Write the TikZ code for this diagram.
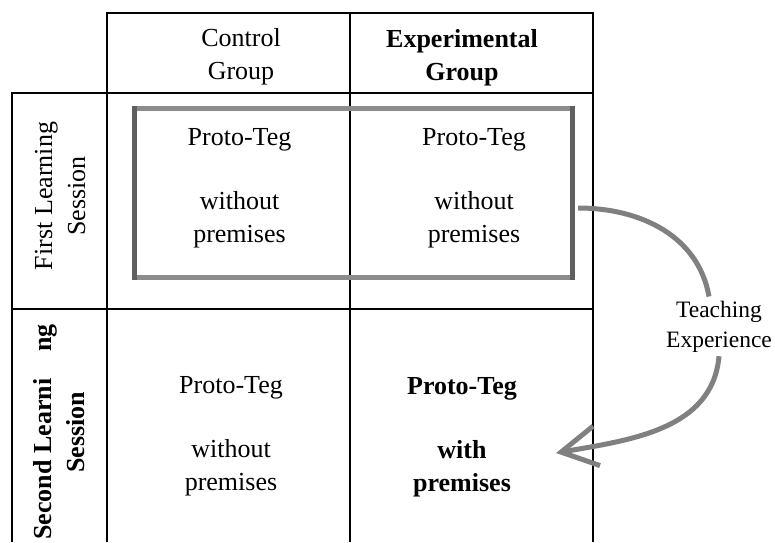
\documentclass[tikz,border=0pt]{standalone}
\usepackage{fontspec}
\setmainfont{Liberation Serif}
\usetikzlibrary{arrows.meta}
\definecolor{framegray}{RGB}{140,140,140}
\definecolor{framedark}{RGB}{95,95,95}
\definecolor{arrowgray}{RGB}{128,128,128}
\begin{document}
\begin{tikzpicture}[x=1pt,y=1pt,
  gridline/.style={line width=2.6pt, black, line join=miter},
  celltext/.style={font=\fontsize{26}{33}\selectfont, align=center, anchor=base, inner sep=0pt},
  boldtext/.style={celltext, font=\fontsize{26}{33}\selectfont\bfseries},
  sidelabel/.style={celltext, rotate=90},
  boldside/.style={boldtext, rotate=90},
  framehoriz/.style={line width=5pt, framegray, dash pattern=on 39pt off 2pt, dash phase=17pt, line cap=rect},
  framevert/.style={line width=5pt, framedark, dash pattern=on 60pt off 2pt, line cap=rect},
  flow/.style={line width=5pt, arrowgray},
]
\path[use as bounding box] (0,0) rectangle (775,-542);

% table grid
\draw[gridline] (107,-542) -- (107,-13) -- (593,-13) -- (593,-542);
\draw[gridline] (350,-13) -- (350,-542);
\draw[gridline] (12,-542) -- (12,-93) -- (593,-93);
\draw[gridline] (12,-309) -- (593,-309);

% headers (anchor = baseline of last line)
\node[celltext] (ctrl) at (241,-79) {Control\\Group};
\node[boldtext] (exp) at (462,-80) {Experimental\\Group};

% side labels
\node[sidelabel] (first) at (85,-196) {First Learning\\Session};
\node[boldside] (second) at (84,-432) {Second Learni\hspace{27pt}ng\\Session};

% cells
\node[celltext] (c1) at (239.5,-242) {Proto-Teg\\[31pt]without\\premises};
\node[celltext] (e1) at (474,-242) {Proto-Teg\\[31pt]without\\premises};
\node[celltext] (c2) at (231,-490) {Proto-Teg\\[31pt]without\\premises};
\node[boldtext] (e2) at (462,-491) {Proto-Teg\\[31pt]with\\premises};

% dashed frame around first session
\node[minimum width=437.5pt, minimum height=168pt, inner sep=0pt] (frame) at (353.25,-193) {};
\draw[framehoriz] (frame.north west) -- (frame.north east);
\draw[framehoriz] (frame.south west) -- (frame.south east);
\draw[framevert] (frame.north west) -- (frame.south west);
\draw[framevert] (frame.north east) -- (frame.south east);

% teaching experience arrow
\node[font=\fontsize{23.5}{30}\selectfont, align=center, anchor=base, inner sep=4pt] (teach) at (719,-347) {Teaching\\Experience};
\coordinate (arrowstart) at ([xshift=6pt,yshift=-15pt]frame.east);
\coordinate (tip) at (556,-453);
\draw[flow] (arrowstart) to[out=0,in=100] ([xshift=-10pt]teach.north);
\draw[flow, -{Straight Barb[length=36pt,width=40pt,line width=5pt]}] (teach.south) to[out=-95,in=10] (tip);
\end{tikzpicture}
\end{document}
